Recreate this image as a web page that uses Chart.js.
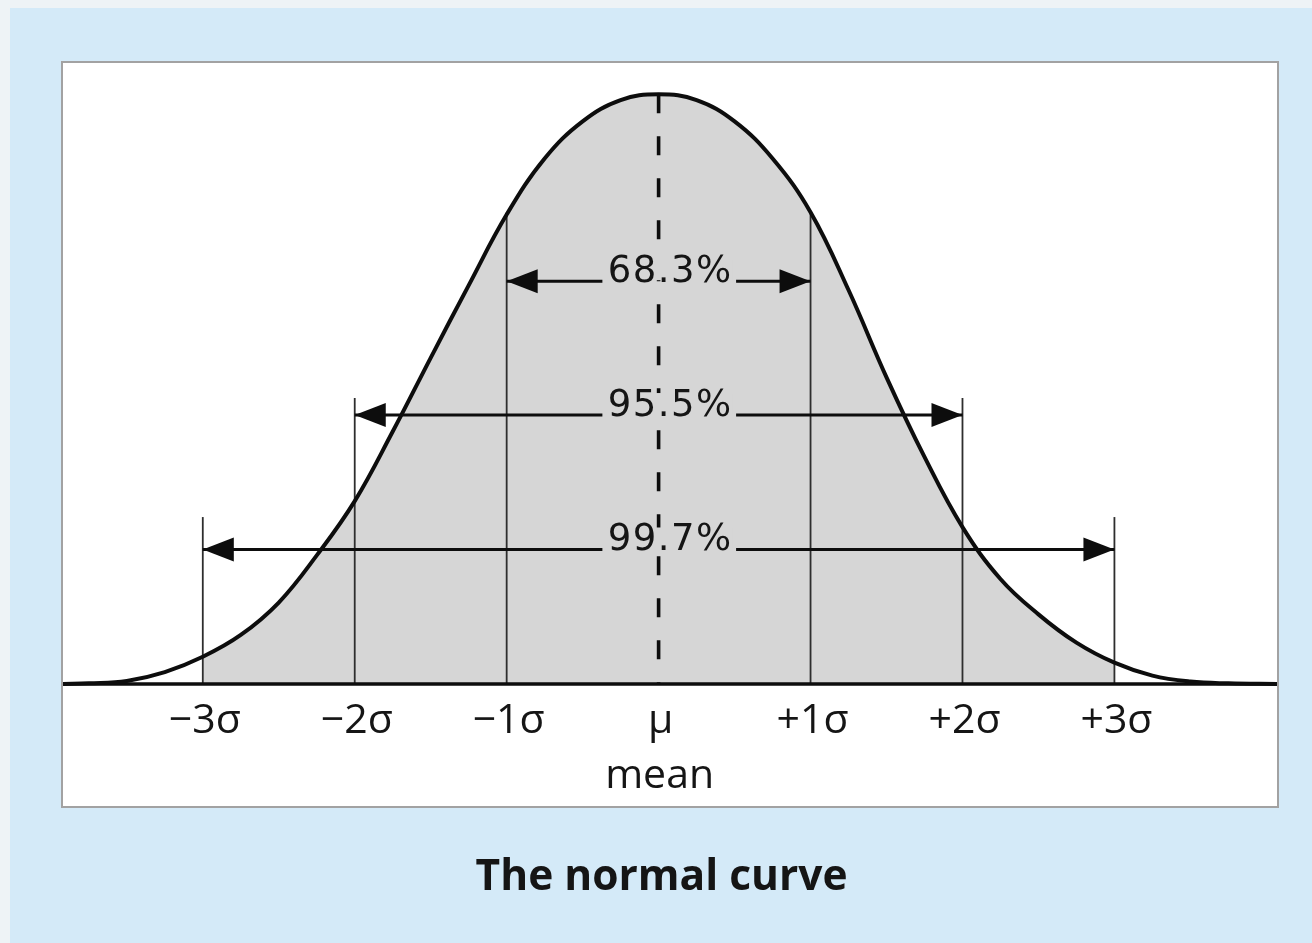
<!DOCTYPE html>
<html>
<head>
<meta charset="utf-8">
<script src="https://cdn.jsdelivr.net/npm/chart.js@4.4.1/dist/chart.umd.min.js"></script>
<style>
  html, body { margin: 0; padding: 0; background: #eef3f6; overflow: hidden; }
  canvas { display: block; }
</style>
</head>
<body>
<canvas id="c" width="1312" height="943"></canvas>
<script>
// ---- data (x in sigma units, y = height relative to the peak) ----
const curveX = [-3.92, -3.75, -3.5, -3.25, -3, -2.75, -2.5, -2.25, -2, -1.75, -1.5, -1.25, -1, -0.75, -0.5, -0.25, 0,
                0.25, 0.5, 0.75, 1, 1.25, 1.5, 1.75, 2, 2.25, 2.5, 2.75, 3, 3.25, 3.5, 3.75, 4.07];
const curveY = [0, 0.001, 0.005, 0.020, 0.046, 0.083, 0.138, 0.218, 0.310, 0.428, 0.553, 0.676, 0.796, 0.891, 0.954, 0.990, 1.000,
                0.990, 0.954, 0.891, 0.800, 0.668, 0.520, 0.385, 0.266, 0.178, 0.118, 0.070, 0.036, 0.014, 0.004, 0.001, 0];
const shadedFrom = -3;
const shadedTo = 3;

const tickValues = [-3, -2, -1, 0, 1, 2, 3];
const tickLabels = ['\u22123\u03c3', '\u22122\u03c3', '\u22121\u03c3', '\u03bc', '+1\u03c3', '+2\u03c3', '+3\u03c3'];
const meanNote = 'mean';

const sigmaLineX = [-3, -2, -1, 1, 2, 3];
const sigmaLineTop = [0.283, 0.485, 0.796, 0.800, 0.485, 0.283];
const meanTop = 1.0;

const bandLabels = ['68.3%', '95.5%', '99.7%'];
const bandSpan = [1, 2, 3];
const bandLevel = [0.683, 0.456, 0.228];

const chartTitle = 'The normal curve';

// ---- layout constants ----
const X_MIN = -3.92, X_MAX = 4.07, Y_MIN = -0.207, Y_MAX = 1.053;
const GAP_L = -0.37, GAP_R = 0.51;   // where the arrow shafts stop around the labels

const pts = (xs, ys) => xs.map((x, i) => ({ x, y: ys[i] }));
const curvePts = pts(curveX, curveY);
const shadedPts = curvePts.filter(p => p.x >= shadedFrom && p.x <= shadedTo);

const INK = '#0d0d0d';
const SHADE = '#d6d6d6';
const TENSION = 0.4;
const datasets = [];

// curve outline (top-most)
datasets.push({ data: curvePts, borderColor: INK, borderWidth: 4, tension: TENSION, fill: false, pointRadius: 0 });
// baseline
datasets.push({ data: [{ x: X_MIN, y: 0 }, { x: X_MAX, y: 0 }], borderColor: INK, borderWidth: 3.4, pointRadius: 0, fill: false });
// arrow shafts
bandLabels.forEach((lab, i) => {
  const k = bandSpan[i], l = bandLevel[i];
  datasets.push({
    data: [{ x: -k, y: l }, { x: GAP_L, y: l }, { x: 0, y: null }, { x: GAP_R, y: l }, { x: k, y: l }],
    borderColor: INK, borderWidth: 3, pointRadius: 0, fill: false, spanGaps: false, arrowHeads: true
  });
});
// dashed mean line
datasets.push({ data: [{ x: 0, y: meanTop }, { x: 0, y: 0 }], borderColor: INK, borderWidth: 3.6, borderDash: [19, 23], pointRadius: 0, fill: false, borderCapStyle: 'butt' });
// sigma lines
sigmaLineX.forEach((sx, i) => {
  datasets.push({ data: [{ x: sx, y: 0 }, { x: sx, y: sigmaLineTop[i] }], borderColor: '#2e2e2e', borderWidth: 1.8, pointRadius: 0, fill: false });
});
// shaded area (bottom-most)
datasets.push({ data: shadedPts, borderWidth: 0, borderColor: 'rgba(0,0,0,0)', backgroundColor: SHADE, fill: 'origin', tension: TENSION, pointRadius: 0 });

const decor = {
  id: 'decor',
  beforeDraw(chart) {
    const { ctx, chartArea: a, width: W, height: H } = chart;
    ctx.save();
    ctx.fillStyle = '#eef3f6';
    ctx.fillRect(0, 0, W, H);
    ctx.fillStyle = '#d4eaf8';
    ctx.fillRect(10, 8, W - 10, H - 8);
    ctx.fillStyle = '#ffffff';
    ctx.fillRect(a.left, a.top, a.right - a.left, a.bottom - a.top);
    ctx.strokeStyle = '#a2a2a2';
    ctx.lineWidth = 2;
    ctx.strokeRect(a.left - 1, a.top - 1, a.right - a.left + 2, a.bottom - a.top + 2);
    ctx.restore();
  },
  afterDatasetsDraw(chart) {
    const { ctx, scales: { x, y }, chartArea: a } = chart;
    ctx.save();
    // arrowheads
    chart.data.datasets.forEach((ds, i) => {
      if (!ds.arrowHeads) return;
      const pts = chart.getDatasetMeta(i).data;
      const first = pts[0], last = pts[pts.length - 1];
      const L = 31, Hh = 12;
      ctx.fillStyle = INK;
      ctx.beginPath();
      ctx.moveTo(first.x, first.y);
      ctx.lineTo(first.x + L, first.y - Hh);
      ctx.lineTo(first.x + L, first.y + Hh);
      ctx.closePath();
      ctx.fill();
      ctx.beginPath();
      ctx.moveTo(last.x, last.y);
      ctx.lineTo(last.x - L, last.y - Hh);
      ctx.lineTo(last.x - L, last.y + Hh);
      ctx.closePath();
      ctx.fill();
    });
    // band labels (a shade patch hides the dashed mean line behind the digits)
    ctx.textAlign = 'center';
    ctx.textBaseline = 'alphabetic';
    ctx.font = '37px "DejaVu Sans"';
    ctx.letterSpacing = '1.5px';
    const cx = x.getPixelForValue((GAP_L + GAP_R) / 2) + 1;
    bandLabels.forEach((t, i) => {
      const by = y.getPixelForValue(bandLevel[i]) + 1;
      const w = ctx.measureText(t).width;
      ctx.fillStyle = SHADE;
      ctx.fillRect(cx - w / 2, by - 23, w, 21);
      ctx.fillStyle = '#151515';
      ctx.fillText(t, cx, by);
    });
    ctx.letterSpacing = '0px';
    // tick labels
    ctx.fillStyle = '#151515';
    const y0 = y.getPixelForValue(0);
    ctx.font = '41px "Open Sans"';
    tickValues.forEach((v, i) => {
      ctx.fillText(tickLabels[i], x.getPixelForValue(v) + 2, y0 + 49);
    });
    ctx.fillText(meanNote, x.getPixelForValue(0) + 1, y0 + 104);
    // title
    ctx.font = 'bold 42.5px "Open Sans"';
    ctx.fillText(chartTitle, x.getPixelForValue(0) + 3, a.bottom + 84);
    ctx.restore();
  }
};

new Chart(document.getElementById('c'), {
  type: 'line',
  data: { datasets },
  options: {
    responsive: false,
    animation: false,
    events: [],
    layout: { padding: { left: 63, top: 63, right: 35, bottom: 137 } },
    plugins: { legend: { display: false }, tooltip: { enabled: false }, title: { display: false } },
    scales: {
      x: { type: 'linear', min: X_MIN, max: X_MAX, display: false },
      y: { type: 'linear', min: Y_MIN, max: Y_MAX, display: false }
    }
  },
  plugins: [decor]
});
</script>
</body>
</html>
